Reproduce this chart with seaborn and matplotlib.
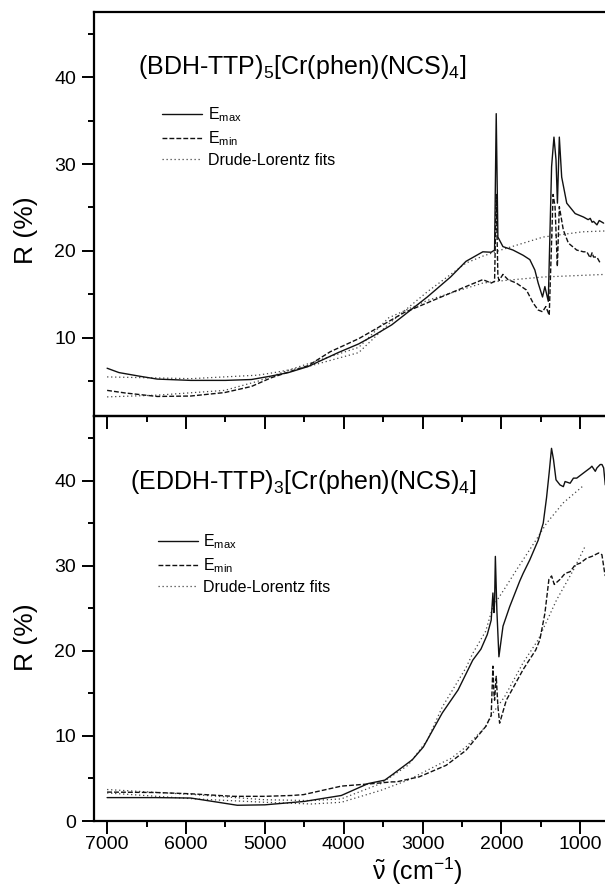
import matplotlib
matplotlib.use('Agg')
import numpy as np
import pandas as pd
import matplotlib.pyplot as plt
import seaborn as sns
from matplotlib.ticker import MultipleLocator
from matplotlib.lines import Line2D

# ---- (BDH-TTP)5[Cr(phen)(NCS)4] ----
bdh_max_x = [7000, 6850, 6600, 6365, 5940, 5500, 5170, 4920, 4700, 4450, 4070, 3810, 3630, 3390, 3235,
             2940, 2645, 2450, 2236, 2130, 2087, 2066, 2045, 1981, 1853, 1725, 1640, 1576, 1534, 1479,
             1449, 1406, 1364, 1334, 1308, 1290, 1266, 1236, 1172, 1065, 959, 900, 874, 850, 832,
             789, 760, 704]
bdh_max_y = [6.5, 6.0, 5.6, 5.25, 5.1, 5.1, 5.2, 5.6, 6.0, 6.7, 8.3, 9.3, 10.2, 11.5, 12.6,
             14.7, 17.0, 18.8, 19.9, 19.85, 20.1, 35.8, 21.6, 20.5, 20.1, 19.5, 19.0, 17.8, 16.3, 14.7,
             15.9, 14.2, 29.7, 33.1, 30.5, 25.5, 33.1, 28.5, 25.5, 24.3, 23.9, 23.6, 23.75, 23.3, 23.4,
             23.0, 23.5, 23.2]

bdh_min_x = [7000, 6770, 6365, 5940, 5510, 5170, 4920, 4450, 4170, 3810, 3675, 3235, 2790, 2450,
             2236, 2130, 2087, 2066, 2045, 2030, 1981, 1917, 1811, 1683, 1598, 1534, 1479, 1437,
             1394, 1345, 1320, 1291, 1266, 1215, 1151, 1045, 960, 917, 874, 850, 832, 790, 747]
bdh_min_y = [3.95, 3.65, 3.25, 3.3, 3.7, 4.4, 5.4, 6.8, 8.4, 9.9, 10.6, 12.9, 14.6, 15.9,
             16.7, 16.3, 16.5, 26.5, 17.1, 16.6, 17.3, 16.7, 16.3, 15.5, 14.0, 13.2, 13.0, 13.6,
             12.6, 26.5, 25.1, 18.2, 25.1, 22.4, 20.9, 20.1, 19.9, 19.9, 19.2, 19.8, 19.3, 19.3, 18.6]

bdh_fit_max_x = [7000, 5940, 5090, 4880, 4450, 3810, 3430, 2940, 2450, 2236, 2010, 1470, 975, 683]
bdh_fit_max_y = [5.5, 5.3, 5.7, 6.0, 6.7, 8.3, 11.6, 15.3, 18.6, 19.4, 20.1, 21.6, 22.2, 22.3]

bdh_fit_min_x = [7000, 6365, 5510, 5090, 4660, 3810, 3430, 2940, 2450, 2236, 1960, 1470, 683]
bdh_fit_min_y = [3.2, 3.4, 3.95, 5.0, 6.4, 8.9, 12.3, 14.3, 15.7, 16.3, 16.6, 17.0, 17.3]

# ---- (EDDH-TTP)3[Cr(phen)(NCS)4] ----
eddh_max_x = [7000, 6380, 5940, 5590, 5350, 5000, 4500, 4030, 3690, 3480, 3390, 3130, 2990,
              2750, 2550, 2364, 2300, 2260, 2180, 2130, 2108, 2095, 2087, 2077, 2058, 2032, 1980,
              1895, 1768, 1725, 1640, 1534, 1470, 1428, 1394, 1365, 1340, 1308, 1257, 1215, 1193,
              1129, 1087, 1045, 960, 874, 853, 810, 789, 747, 725, 704, 683]
eddh_max_y = [2.75, 2.75, 2.7, 2.2, 1.85, 1.9, 2.3, 3.0, 4.4, 4.8, 5.4, 7.2, 8.7,
              12.7, 15.4, 18.9, 19.7, 20.2, 21.9, 23.6, 26.8, 24.5, 25.6, 31.1, 24.8, 19.3, 22.9,
              25.2, 28.2, 29.1, 30.7, 33.0, 35.0, 38.0, 41.0, 43.8, 42.5, 40.1, 39.5, 39.3, 39.9,
              39.7, 40.3, 40.3, 40.9, 41.5, 41.7, 41.1, 41.5, 41.9, 41.9, 41.5, 39.5]

eddh_min_x = [7000, 6380, 5940, 5400, 5000, 4660, 4510, 4030, 3625, 3390, 3330, 3040, 2700,
              2450, 2200, 2130, 2108, 2095, 2087, 2066, 2045, 2023, 1938, 1725, 1565, 1513, 1449,
              1398, 1364, 1330, 1257, 1193, 1129, 1066, 1002, 917, 853, 768, 726, 690, 683]
eddh_min_y = [3.4, 3.35, 3.2, 2.9, 2.9, 3.0, 3.1, 4.1, 4.4, 4.6, 4.6, 5.2, 6.55,
              8.3, 11.1, 12.4, 18.2, 15.0, 14.2, 17.0, 13.5, 11.5, 14.2, 17.8, 20.1, 21.3, 24.4,
              28.4, 28.8, 27.8, 28.4, 29.1, 29.3, 30.1, 30.3, 30.9, 31.1, 31.5, 31.3, 29.1, 28.8]

eddh_fit_max_x = [7000, 5890, 5000, 4410, 4030, 3530, 3185, 2940, 2750, 2450, 2364, 2200, 2108,
                  1960, 1810, 1556, 1428, 1215, 950]
eddh_fit_max_y = [3.7, 3.1, 2.5, 2.4, 2.6, 4.4, 6.55, 9.5, 13.4, 18.0, 19.7, 22.3, 25.2,
                  27.3, 29.5, 33.1, 35.0, 37.4, 39.5]

eddh_fit_min_x = [7000, 5890, 5000, 4410, 4030, 3530, 3185, 2700, 2662, 2450, 2200, 2108, 1960,
                  1725, 1534, 1300, 1087, 938]
eddh_fit_min_y = [3.3, 2.6, 2.2, 2.0, 2.2, 3.6, 4.8, 7.1, 7.2, 8.7, 11.1, 12.7, 14.6,
                  18.6, 21.3, 26.0, 29.5, 32.3]

titles = [r'(BDH-TTP)$_5$[Cr(phen)(NCS)$_4$]', r'(EDDH-TTP)$_3$[Cr(phen)(NCS)$_4$]']
legend_labels = [r'E$_{\mathregular{max}}$', r'E$_{\mathregular{min}}$', 'Drude-Lorentz fits']

sns.set_theme(style='ticks')
plt.rcParams['font.family'] = ['Liberation Sans', 'DejaVu Sans']
plt.rcParams['mathtext.fontset'] = 'custom'
plt.rcParams['mathtext.rm'] = 'Liberation Sans'
plt.rcParams['mathtext.it'] = 'Liberation Sans:italic'
plt.rcParams['mathtext.bf'] = 'Liberation Sans:bold'
plt.rcParams['text.color'] = 'black'
plt.rcParams['axes.labelcolor'] = 'black'

fig = plt.figure(figsize=(6.05, 8.96), dpi=100)
ax1 = fig.add_axes([0.1554, 0.5357, 0.852, 0.4509])
ax2 = fig.add_axes([0.1554, 0.0837, 0.852, 0.4520])

solid = dict(color='#111111', lw=1.0)
dashed = dict(color='#111111', lw=1.0, dashes=(3.5, 1.5))
dotted = dict(color='#444444', lw=0.9, dashes=(1, 2.2))


def draw(ax, mx, my, nx, ny, fx1, fy1, fx2, fy2):
    for xs, ys, st in [(fx1, fy1, dotted), (fx2, fy2, dotted), (nx, ny, dashed), (mx, my, solid)]:
        df = pd.DataFrame({'x': xs, 'y': ys})
        sns.lineplot(data=df, x='x', y='y', ax=ax, sort=False, estimator=None, **st)


draw(ax1, bdh_max_x, bdh_max_y, bdh_min_x, bdh_min_y,
     bdh_fit_max_x, bdh_fit_max_y, bdh_fit_min_x, bdh_fit_min_y)
draw(ax2, eddh_max_x, eddh_max_y, eddh_min_x, eddh_min_y,
     eddh_fit_max_x, eddh_fit_max_y, eddh_fit_min_x, eddh_fit_min_y)

ax1.set_ylim(1.0, 47.5)
ax2.set_ylim(0, 47.6)

for ax in (ax1, ax2):
    ax.set_facecolor('none')
    ax.set_xlim(7166, 630)
    ax.xaxis.set_major_locator(MultipleLocator(1000))
    ax.xaxis.set_minor_locator(MultipleLocator(500))
    ax.yaxis.set_major_locator(MultipleLocator(10))
    ax.yaxis.set_minor_locator(MultipleLocator(5))
    ax.tick_params(which='major', direction='out', length=9, width=1.4, labelsize=14,
                   color='black', labelcolor='black')
    ax.tick_params(which='minor', direction='out', length=4.5, width=1.4, color='black')
    ax.tick_params(axis='y', pad=4)
    ax.tick_params(axis='x', pad=2)
    ax.spines['right'].set_visible(False)
    for s in ('left', 'top', 'bottom'):
        ax.spines[s].set_linewidth(1.6)
        ax.spines[s].set_color('black')
    ax.set_ylabel('R (%)', fontsize=19)
    ax.set_xlabel('')

ax1.set_xticks([7000, 6000, 5000, 4000, 3000, 2000, 1000])
ax2.set_xticks([7000, 6000, 5000, 4000, 3000, 2000, 1000])
ax1.set_yticks([10, 20, 30, 40])
ax2.set_yticks([0, 10, 20, 30, 40])
ax1.tick_params(axis='x', labelbottom=False)
ax1.yaxis.set_label_coords(-0.108, 0.46)
ax2.yaxis.set_label_coords(-0.108, 0.454)

ax2.set_xlabel(r'$\tilde{\mathrm{\nu}}$ (cm$^{-1}$)', fontsize=18)
ax2.xaxis.set_label_coords(0.628, -0.085)

ax1.text(0.086, 0.864, titles[0], transform=ax1.transAxes, fontsize=18, va='center', ha='left')
ax2.text(0.070, 0.838, titles[1], transform=ax2.transAxes, fontsize=18, va='center', ha='left')

handles = [Line2D([], [], **solid), Line2D([], [], **dashed), Line2D([], [], **dotted)]
for ax, (lx, ly) in [(ax1, (0.132, 0.768)), (ax2, (0.124, 0.712))]:
    ax.legend(handles, legend_labels, loc='upper left', bbox_to_anchor=(lx, ly), frameon=False,
              fontsize=11.5, handlelength=2.5, handletextpad=0.35, labelspacing=0.3,
              borderpad=0, borderaxespad=0)

fig.savefig('out.png', dpi=100)
